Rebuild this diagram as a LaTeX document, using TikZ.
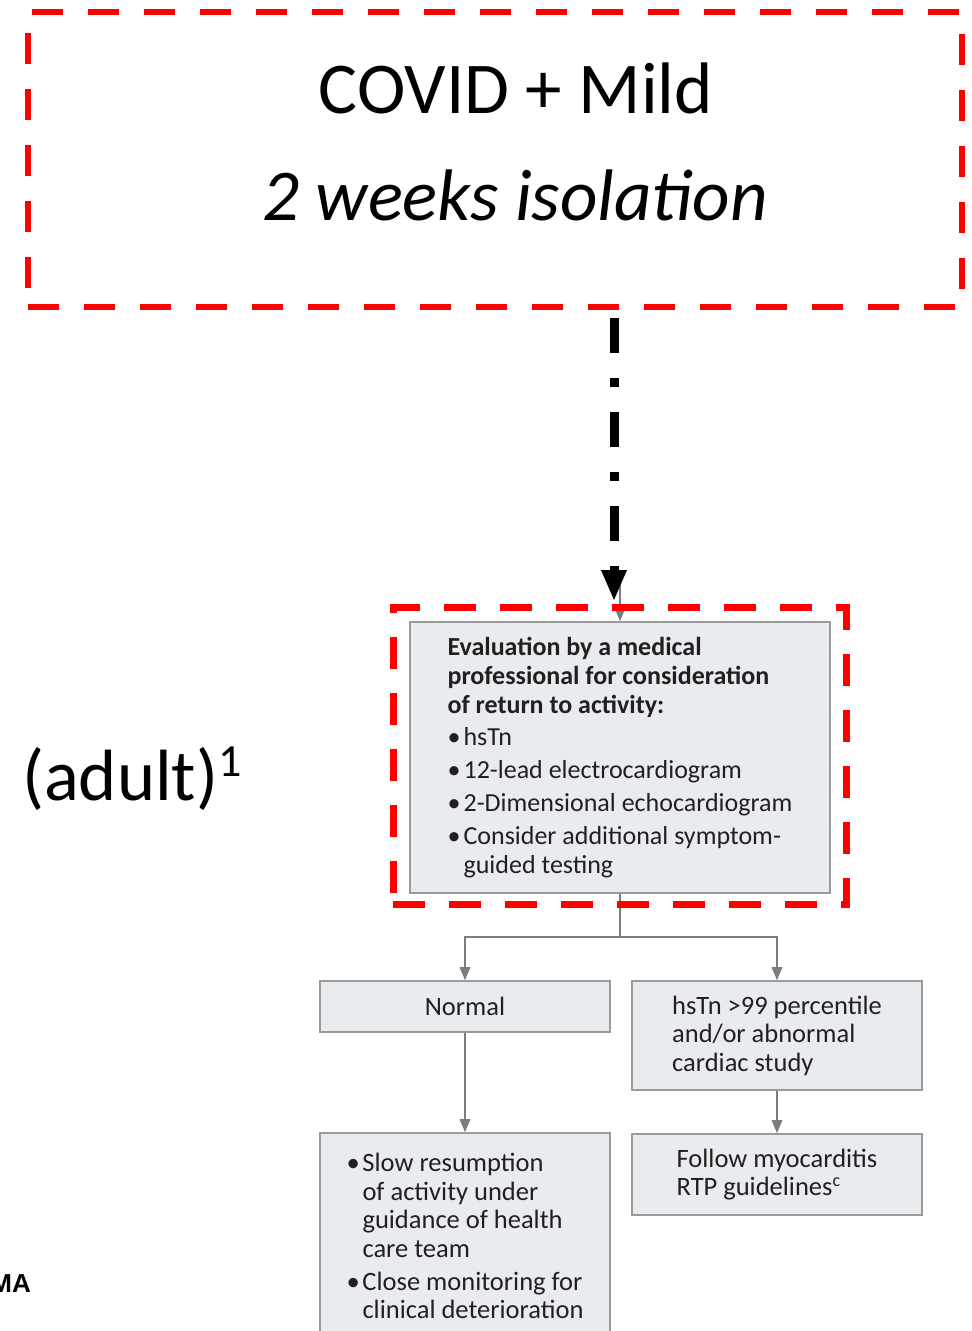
\documentclass[tikz,border=0pt]{standalone}
\usepackage{fontspec}
\setmainfont{Carlito}
\newfontfamily\arialb{Liberation Sans}
\usetikzlibrary{arrows.meta}
\definecolor{rd}{RGB}{255,0,0}
\definecolor{boxfill}{RGB}{233,236,239}
\definecolor{boxline}{RGB}{155,155,155}
\definecolor{connc}{RGB}{125,125,125}
\definecolor{txt}{RGB}{35,31,32}
\newcommand\bu{\makebox[16pt][l]{•}}
\newcommand\bi{\hspace*{16pt}}
\begin{document}
\begin{tikzpicture}[x=1pt,y=-1pt,
  reddash/.style={draw=rd, line width=6.5pt, dash pattern=on 31pt off 25pt, inner sep=0pt},
  graybox/.style={draw=boxline, fill=boxfill, line width=1.8pt, text=txt, align=left, inner sep=0pt},
  evalfont/.style={font=\fontsize{26}{29}\selectfont},
  lowfont/.style={font=\fontsize{26.5}{28.5}\selectfont},
  connline/.style={draw=connc, line width=1.6pt},
  grayarrow/.style={connline, -{Triangle[width=11pt,length=13pt,line width=0pt]}},
  bigtext/.style={font=\fontsize{73}{73}\selectfont, inner sep=0pt, anchor=base},
]
\useasboundingbox (0,0) rectangle (972,1331);

% top box
\node[reddash, minimum width=934pt, minimum height=295pt] (top) at (495,159.5) {};
\node[bigtext] (t1) at (516,113) {COVID + Mild};
\node[bigtext, font=\fontsize{73}{73}\selectfont\itshape] (t2) at (515,220) {2 weeks isolation};

% side label
\node[anchor=base west, inner sep=0pt, font=\fontsize{72.6}{72.6}\selectfont] (adult) at (22,800) {(adult)\raisebox{24pt}{\fontsize{46}{46}\selectfont 1}};
\node[anchor=base east, inner sep=0pt, font=\arialb\bfseries\fontsize{26}{26}\selectfont] (ma) at (31,1292) {MA};

% gray boxes
\node[graybox, evalfont, minimum width=420pt, minimum height=271pt] (eval) at (620,757.5) {%
\textbf{Evaluation by a medical}\\
\textbf{professional for consideration}\\
\textbf{of return to activity:}\\[3pt]
\bu hsTn\\[4pt]
\bu 12-lead electrocardiogram\\[4pt]
\bu 2-Dimensional echocardiogram\\[4pt]
\bu Consider additional symptom-\\
\bi guided testing};

\node[graybox, lowfont, minimum width=290pt, minimum height=51pt] (normal) at (465,1006.5) {Normal};
\node[graybox, lowfont, minimum width=290pt, minimum height=109pt] (abn) at (777,1035.5) {hsTn >99 percentile\\and/or abnormal\\cardiac study};
\node[graybox, lowfont, minimum width=290pt, minimum height=81pt] (follow) at (777,1174.5) {Follow myocarditis\\RTP guidelines\raisebox{9pt}{\fontsize{18}{18}\selectfont c}};
\node[graybox, lowfont, minimum width=290pt, minimum height=206pt] (slow) at (465,1236) {%
\bu Slow resumption\\
\bi of activity under\\
\bi guidance of health\\
\bi care team\\[4.5pt]
\bu Close monitoring for\\
\bi clinical deterioration};

% gray connectors
\coordinate (gtop) at (620,585);
\coordinate (split) at (620,937);
\draw[grayarrow] (gtop) -- (eval.north);
\draw[connline] (eval.south) -- (split);
\draw[grayarrow] (split) -| (normal.north);
\draw[grayarrow] (split) -| (abn.north);
\draw[grayarrow] (normal.south) -- (slow.north);
\draw[grayarrow] (abn.south) -- (follow.north);

% red highlight box
\node[reddash, line width=7pt, dash pattern=on 32pt off 24pt, minimum width=453pt, minimum height=297pt] (redbox) at (619.5,756) {};

% black dashed arrow
\coordinate (bs) at (614,318);
\coordinate (be) at (614,600);
\draw[line width=9pt, dash pattern=on 35pt off 25pt on 9pt off 25pt, -{Triangle[width=26pt,length=30pt,line width=0pt]}] (bs) -- (be);
\end{tikzpicture}
\end{document}
